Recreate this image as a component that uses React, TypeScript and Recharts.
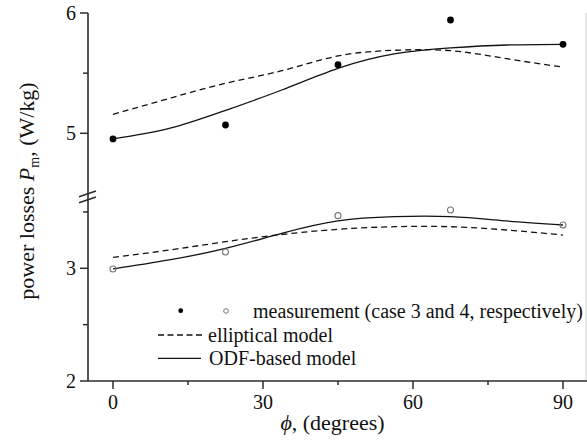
import React from 'react';
import { ComposedChart, Line, Scatter, XAxis, YAxis, ReferenceLine, Legend, Label } from 'recharts';

// ---- data (real values, W/kg) ----
const measAngles = [0, 22.5, 45, 67.5, 90];
const measCase3 = [4.953, 5.069, 5.57, 5.942, 5.74];
const measCase4 = [2.994, 3.145, 3.467, 3.517, 3.384];

const modelAngles = [0, 11.25, 22.5, 33.75, 45, 56.25, 67.5, 78.75, 90];
const ellipticalCase3 = [5.158, 5.29, 5.416, 5.52, 5.643, 5.69, 5.687, 5.62, 5.55];
const odfCase3 = [4.953, 5.04, 5.19, 5.36, 5.54, 5.66, 5.71, 5.734, 5.74];
const ellipticalCase4 = [3.097, 3.162, 3.236, 3.3, 3.346, 3.369, 3.369, 3.34, 3.295];
const odfCase4 = [2.994, 3.074, 3.177, 3.31, 3.42, 3.458, 3.458, 3.42, 3.384];

const xTicks = [0, 15, 30, 45, 60, 75, 90];
const xTickLabels = ['0', '', '30', '', '60', '', '90'];
const yTicks = [2, 2.5, 3, 3.5, 5, 5.5, 6];
const yTickLabels = ['2', '', '3', '', '5', '', '6'];
const yBreakValue = 3.634; // top of the lower segment, where the axis break is drawn

// ---- broken y-axis transform (lower segment 2..~3.63, upper segment ~4.47..6) ----
const toAxis = (v: number) => (v < 4 ? (v - 2) * 112.7 : 247.7 + (v - 5) * 120.3);

const build = (xs: number[], ys: number[]) => xs.map((x, i) => ({ x, u: toAxis(ys[i]) }));

const measCase3Data = build(measAngles, measCase3);
const measCase4Data = build(measAngles, measCase4);
const ell3Data = build(modelAngles, ellipticalCase3);
const odf3Data = build(modelAngles, odfCase3);
const ell4Data = build(modelAngles, ellipticalCase4);
const odf4Data = build(modelAngles, odfCase4);

const yTickU = yTicks.map(toAxis);
const breakU = toAxis(yBreakValue);

const FONT = '"Liberation Serif", "Times New Roman", serif';
const AXIS = '#2b2b2b';
const INK = '#111';

const YTick = (props: any) => {
  const { x, y, payload } = props;
  const ax = x + 12;
  const v = payload.value;
  if (Math.abs(v - breakU) < 0.05) {
    return (
      <g stroke={AXIS} strokeWidth={1.6}>
        <line x1={ax - 9} y1={y - 0.2} x2={ax + 8} y2={y - 5.8} />
        <line x1={ax - 9} y1={y + 5.8} x2={ax + 8} y2={y + 0.2} />
      </g>
    );
  }
  const i = yTickU.findIndex((t) => Math.abs(t - v) < 0.05);
  const label = i >= 0 ? yTickLabels[i] : '';
  const len = label ? 8 : 5;
  return (
    <g>
      <line x1={ax - len} x2={ax} y1={y} y2={y} stroke={AXIS} strokeWidth={1.5} />
      {label ? (
        <text x={ax - 12} y={y} dy="0.34em" textAnchor="end" fontFamily={FONT} fontSize={20} fill={INK}>
          {label}
        </text>
      ) : null}
    </g>
  );
};

const XTick = (props: any) => {
  const { x, y, payload } = props;
  const ay = y - 12;
  const i = xTicks.findIndex((t) => Math.abs(t - payload.value) < 0.01);
  const label = i >= 0 ? xTickLabels[i] : '';
  const len = label ? 8 : 4;
  return (
    <g>
      <line x1={x} x2={x} y1={ay} y2={ay + len} stroke={AXIS} strokeWidth={1.5} />
      {label ? (
        <text x={x} y={ay + 28} textAnchor="middle" fontFamily={FONT} fontSize={20} fill={INK}>
          {label}
        </text>
      ) : null}
    </g>
  );
};

const YTitle = (props: any) => {
  const vb = props.viewBox || { x: 0, y: 13, width: 88, height: 368 };
  const bx = vb.x + 34;
  const cy = vb.y + vb.height / 2 - 6;
  return (
    <text
      x={bx}
      y={cy}
      transform={`rotate(-90, ${bx}, ${cy})`}
      textAnchor="middle"
      fontFamily={FONT}
      fontSize={22}
      fill={INK}
    >
      power losses <tspan fontStyle="italic">P</tspan>
      <tspan fontSize={14} dy={5}>m</tspan>
      <tspan dy={-5}>, (W/kg)</tspan>
    </text>
  );
};

const XTitle = (props: any) => {
  const vb = props.viewBox || { x: 88, y: 381, width: 499, height: 62 };
  return (
    <text
      x={vb.x + vb.width / 2 - 5}
      y={vb.y + 49}
      textAnchor="middle"
      fontFamily={FONT}
      fontSize={22}
      fill={INK}
    >
      <tspan fontStyle="italic">ϕ</tspan>, (degrees)
    </text>
  );
};

const LegendBox = () => (
  <svg width={430} height={80} style={{ overflow: 'visible' }}>
    <circle cx={30.7} cy={14.7} r={2.4} fill="#000" />
    <circle cx={76} cy={15} r={2.3} fill="none" stroke="#777" strokeWidth={1} />
    <text x={103} y={22.3} fontFamily={FONT} fontSize={20} fill={INK}>
      measurement (case 3 and 4, respectively)
    </text>
    <line x1={8} x2={53} y1={39} y2={39} stroke={INK} strokeWidth={1.3} strokeDasharray="6 3.5" />
    <text x={58} y={45.7} fontFamily={FONT} fontSize={20} fill={INK}>
      elliptical model
    </text>
    <line x1={8} x2={51} y1={62.3} y2={62.3} stroke={INK} strokeWidth={1.3} />
    <text x={59} y={69} fontFamily={FONT} fontSize={20} fill={INK}>
      ODF-based model
    </text>
  </svg>
);

const FilledDot = (p: any) => <circle cx={p.cx} cy={p.cy} r={3.4} fill="#000" />;
const OpenDot = (p: any) => <circle cx={p.cx} cy={p.cy} r={3} fill="none" stroke="#777" strokeWidth={1.1} />;

export default function App() {
  return (
    <div style={{ position: 'absolute', left: 0, top: 0, width: 587, height: 443, background: '#fff', overflow: 'hidden' }}>
      <ComposedChart width={587} height={443} margin={{ top: 13, right: 0, bottom: 0, left: 0 }}>
        <XAxis
          xAxisId={0}
          type="number"
          dataKey="x"
          domain={[-5, 94.8]}
          allowDataOverflow
          ticks={xTicks}
          interval={0}
          tickSize={8}
          tickMargin={4}
          tickLine={false}
          tick={<XTick />}
          height={62}
          axisLine={{ stroke: AXIS, strokeWidth: 1.6 }}
        >
          <Label content={<XTitle />} />
        </XAxis>
        <XAxis
          xAxisId="top"
          orientation="top"
          type="number"
          dataKey="x"
          domain={[-5, 94.8]}
          allowDataOverflow
          height={0}
          tick={false}
          tickLine={false}
          axisLine={{ stroke: AXIS, strokeWidth: 1.6 }}
        />
        <YAxis
          type="number"
          dataKey="u"
          domain={[0, 368]}
          allowDataOverflow
          ticks={[...yTickU, breakU]}
          interval={0}
          tickSize={8}
          tickMargin={4}
          tickLine={false}
          tick={<YTick />}
          width={88}
          axisLine={{ stroke: AXIS, strokeWidth: 1.6 }}
        >
          <Label content={<YTitle />} />
        </YAxis>
        <ReferenceLine x={94.6} stroke="#d0d0d0" strokeWidth={1} />
        <Line data={ell3Data} dataKey="u" type="natural" stroke={INK} strokeWidth={1.3} strokeDasharray="6 4" dot={false} isAnimationActive={false} />
        <Line data={odf3Data} dataKey="u" type="natural" stroke={INK} strokeWidth={1.3} dot={false} isAnimationActive={false} />
        <Line data={ell4Data} dataKey="u" type="natural" stroke={INK} strokeWidth={1.3} strokeDasharray="6 4" dot={false} isAnimationActive={false} />
        <Line data={odf4Data} dataKey="u" type="natural" stroke={INK} strokeWidth={1.3} dot={false} isAnimationActive={false} />
        <Scatter data={measCase3Data} dataKey="u" shape={<FilledDot />} isAnimationActive={false} />
        <Scatter data={measCase4Data} dataKey="u" shape={<OpenDot />} isAnimationActive={false} />
        <Legend
          verticalAlign="middle"
          layout="horizontal"
          wrapperStyle={{ left: 150, top: 296, width: 430, height: 80 }}
          content={() => <LegendBox />}
        />
      </ComposedChart>
    </div>
  );
}
